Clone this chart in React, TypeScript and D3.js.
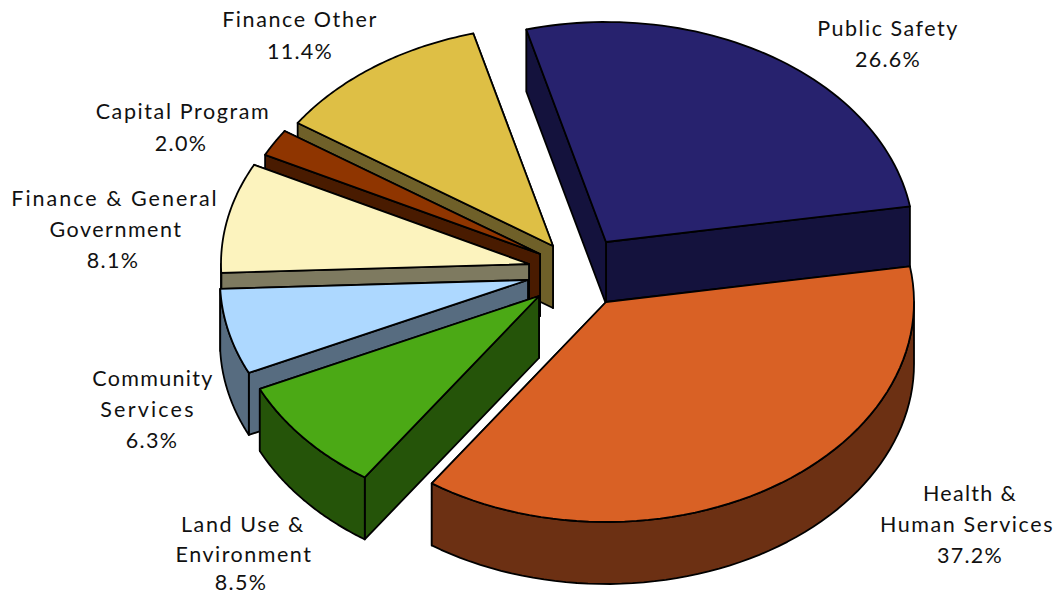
import React from "react";
import * as d3 from "d3";

const names = ["Public Safety", "Health & Human Services", "Land Use & Environment", "Community Services", "Finance & General Government", "Capital Program", "Finance Other"];
const shares = [26.6, 37.2, 8.5, 6.3, 8.1, 2.0, 11.4];
const topColors = ["#27226E", "#D96125", "#4BA915", "#ADD8FF", "#FCF3BE", "#8F3500", "#DEBF45"];
const wallColors = ["#14123D", "#6C3013", "#255409", "#576C80", "#7E7A60", "#491B00", "#6F6029"];
const apexX = [606, 606, 539, 528, 529, 540, 553];
const apexY = [242, 302, 296, 280, 264, 254, 246];
const drawOrder = [6, 5, 4, 3, 2, 0, 1];

const labelLines = [
  ["Public Safety", "26.6%"],
  ["Health &", "Human Services", "37.2%"],
  ["Land Use &", "Environment", "8.5%"],
  ["Community", "Services", "6.3%"],
  ["Finance & General", "Government", "8.1%"],
  ["Capital Program", "2.0%"],
  ["Finance Other", "11.4%"],
];
const labelX = [[888, 888], [970, 967, 970], [243, 244, 241], [153, 148, 152], [115, 116, 113], [183, 181], [300, 300]];
const labelY = [[36, 67], [501, 532, 563], [532, 562, 590], [386, 417, 448], [206, 237, 268], [119, 151], [27, 59]];
const labelSpacing = [[1.5, 1.3], [1.3, 1.6, 1.3], [1.6, 1.5, 1.3], [1.3, 2.2, 1.3], [2, 1.5, 1.3], [1.6, 1.3], [1.6, 1.3]];

const RX = 308;
const RY = 220;
const DEPTH = 62;
const START = (-15 * Math.PI) / 180;

const pieGen = d3.pie<number>().sort(null).startAngle(START).endAngle(START + 2 * Math.PI);
const arcs = pieGen(shares);
const lineGen = d3.line<[number, number]>();

function App() {
  const slices = drawOrder.map((i) => {
    const a = arcs[i];
    const cx = apexX[i];
    const cy = apexY[i];
    const pt = (t: number, dz = 0): [number, number] => [cx + RX * Math.sin(t), cy - RY * Math.cos(t) + dz];
    const samples = (t0: number, t1: number, dz = 0) =>
      d3.range(0, 61).map((k) => pt(t0 + ((t1 - t0) * k) / 60, dz));
    const apex: [number, number] = [cx, cy];
    const apexLow: [number, number] = [cx, cy + DEPTH];
    const top = lineGen([apex, ...samples(a.startAngle, a.endAngle)]) + "Z";
    const wallA = lineGen([apex, pt(a.startAngle), pt(a.startAngle, DEPTH), apexLow]) + "Z";
    const wallB = lineGen([apex, pt(a.endAngle), pt(a.endAngle, DEPTH), apexLow]) + "Z";
    const lo = Math.max(a.startAngle, Math.PI / 2);
    const hi = Math.min(a.endAngle, (3 * Math.PI) / 2);
    const outer =
      hi > lo ? lineGen([...samples(lo, hi), ...samples(hi, lo, DEPTH)]) + "Z" : null;
    return { i, top, wallA, wallB, outer };
  });

  return (
    <svg width={1060} height={594} style={{ position: "fixed", left: 0, top: 0, background: "#fff" }}>
      {slices.map((s) => (
        <g key={names[s.i]} stroke="#000" strokeWidth={1.8} strokeLinejoin="round">
          <path d={s.wallB} fill={wallColors[s.i]} />
          <path d={s.wallA} fill={wallColors[s.i]} />
          {s.outer && <path d={s.outer} fill={wallColors[s.i]} />}
          <path d={s.top} fill={topColors[s.i]} />
        </g>
      ))}
      <g fontFamily="Lato" fontSize={21.5} fill="#111" textAnchor="middle">
        {labelLines.map((lines, i) =>
          lines.map((t, j) => (
            <text key={i + "-" + j} x={labelX[i][j]} y={labelY[i][j]} letterSpacing={labelSpacing[i][j]}>
              {t}
            </text>
          ))
        )}
      </g>
    </svg>
  );
}

export default App;
